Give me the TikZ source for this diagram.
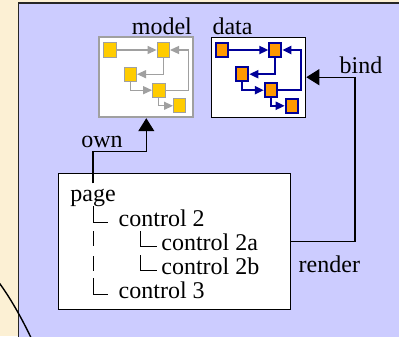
\documentclass[tikz,border=0pt]{standalone}
\usepackage{fontspec}
\setmainfont{Liberation Serif}
\newfontfamily\figfont{Liberation Serif}
\usetikzlibrary{arrows.meta}

\definecolor{paper}{RGB}{252,240,212}
\definecolor{panel}{RGB}{204,204,255}
\definecolor{gold}{RGB}{255,204,0}
\definecolor{darkorange}{RGB}{255,153,0}
\definecolor{navy}{RGB}{0,0,153}
\definecolor{mgray}{RGB}{160,160,160}

\tikzset{
  lbl/.style={inner sep=0pt, anchor=base west},
  item/.style={inner sep=0pt, anchor=base west, text height=6pt, text depth=2pt},
  graphbox/.style={fill=white, minimum width=47pt, minimum height=40pt, inner sep=0pt},
  mnode/.style={draw=mgray, fill=gold, line width=0.5pt, minimum width=6.2pt, minimum height=7.1pt, inner sep=0pt},
  dnode/.style={draw=navy, fill=darkorange, line width=1pt, minimum width=6pt, minimum height=7pt, inner sep=0pt},
  mline/.style={draw=mgray, line width=0.6pt, -{Triangle[length=4.5pt,width=4pt]}},
  dline/.style={draw=navy, line width=1pt, -{Triangle[length=4.5pt,width=4pt]}},
  bigarrow/.style={line width=0.6pt, -{Triangle[length=6.5pt,width=8pt]}},
  treeline/.style={line width=0.5pt}
}

\begin{document}
\begin{tikzpicture}[x=0.5pt, y=-0.5pt, font=\figfont\fontsize{12pt}{14pt}\selectfont]

\clip (0,0) rectangle (399,336);
\fill [paper] (0,0) rectangle (399,336);

% panel
\fill [panel] (18.3,3) rectangle (410,350);
\draw [line width=0.8pt, black!85] (18.3,350) -- (18.3,3) -- (410,3);

% model and data
\node [graphbox, draw=mgray, line width=1pt] (model) at (146.3,77.2) {};
\node [graphbox, draw=black, line width=0.6pt] (data) at (258.7,77.2) {};
\node [lbl, anchor=base east] (modellbl) at ([xshift=-1pt,yshift=1pt]model.north east) {model};
\node [lbl] (datalbl) at ([xshift=0.5pt,yshift=1pt]data.north west) {data};

% model graph
\node [mnode] (mA) at (110,50) {};
\node [mnode] (mB) at (163.3,50) {};
\node [mnode] (mC) at (130.3,74.2) {};
\node [mnode] (mD) at (158.8,90.2) {};
\node [mnode] (mE) at (179.7,105.8) {};
\draw [mline] (mA) -- (mB);
\draw [mline] (mB.south) |- (mC.east);
\draw [mline] (mC.south) |- (mD.west);
\draw [mline] (mD.south) |- (mE.west);
\draw [mline] (mD.east) -- ++(23,0) |- (mB.east);

% data graph
\node [dnode] (dA) at (222,50) {};
\node [dnode] (dB) at (275.3,50) {};
\node [dnode] (dC) at (242.3,74.2) {};
\node [dnode] (dD) at (270.8,90.2) {};
\node [dnode] (dE) at (291.7,105.8) {};
\draw [dline] (dA) -- (dB);
\draw [dline] (dB.south) |- (dC.east);
\draw [dline] (dC.south) |- (dD.west);
\draw [dline] (dD.south) |- (dE.west);
\draw [dline] (dD.east) -- ++(23,0) |- (dB.east);

% page tree
\node [draw, fill=white, line width=0.6pt, minimum width=116pt, minimum height=67.8pt] (pagebox) at (174.3,241.5) {};
\node [item, text height=9pt] (page) at (70,201.7) {page};
\node [item] (c2) at (118.3,226.7) {control 2};
\node [item] (c2a) at (161,250.7) {control 2a};
\node [item] (c2b) at (161,274) {control 2b};
\node [item] (c3) at (118.3,298.3) {control 3};

\draw [treeline] (page.south) |- ([xshift=-5pt]c2.west);
\draw [treeline] ([xshift=11pt]c2.south west) |- ([xshift=-2pt]c2a.west);
\draw [treeline] ([xshift=-10.5pt]c2a.south west) |- ([xshift=-2pt]c2b.west);
\draw [treeline, dash pattern=on 7.5pt off 5pt] (page.south |- c2.south) -- ++(0,42);
\draw [treeline] ([yshift=4pt]page.south |- c3.north) |- ([xshift=-5pt]c3.west);

% own
\draw [bigarrow] (page.north) -- ++(0,-32) -| (model.south);
\node [lbl, anchor=base] (own) at (102,147.7) {own};

% bind / render
\draw [bigarrow] (pagebox.east) -- ++(64,0) |- (data.east);
\node [lbl] (bind) at (339.3,74) {bind};
\node [lbl] (render) at (298.3,272.7) {render};

% arc at the left
\draw [line width=0.7pt] (-3,280) .. controls (8,294) and (22,318) .. (33,342);

\end{tikzpicture}
\end{document}
